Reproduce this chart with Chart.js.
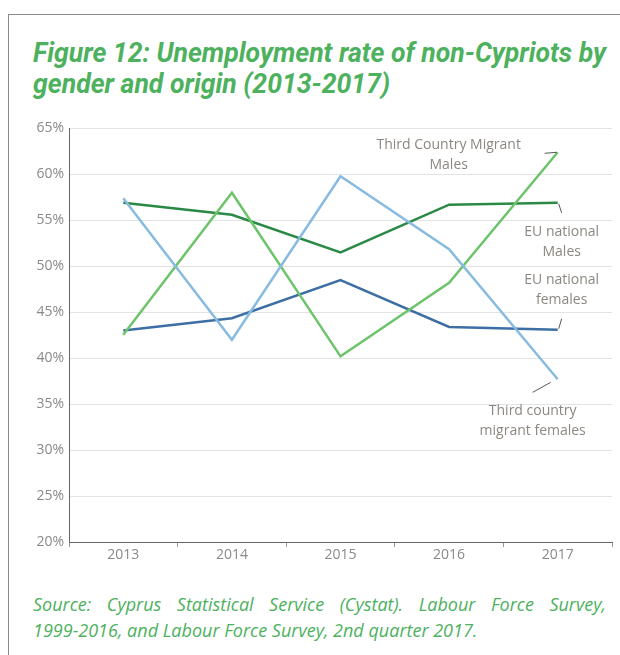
<!DOCTYPE html>
<html>
<head>
<meta charset="utf-8">
<script src="https://cdn.jsdelivr.net/npm/chart.js@4"></script>
<style>
body{margin:0;background:#fff;width:620px;height:655px;overflow:hidden;position:relative;font-family:"Open Sans",sans-serif}
#frame{position:absolute;left:8px;top:14px;width:620px;height:650px;border-top:1.5px solid #8a8a8a;border-left:1.5px solid #8a8a8a}
#title{position:absolute;left:33px;top:37px;color:#4db15e;font:italic bold 28px Roboto;line-height:31px;white-space:nowrap}
#title span{display:inline-block;transform-origin:left top}
#chart{position:absolute;left:0;top:115px}
#source{position:absolute;left:33px;top:591px;width:573px;color:#4db15e;font:italic 18px "Open Sans";line-height:26px}
.l1{text-align:justify;text-align-last:justify}
</style>
</head>
<body>
<div id="frame"></div>
<div id="title"><span id="t1">Figure 12: Unemployment rate of non-Cypriots by</span><br><span id="t2">gender and origin (2013-2017)</span></div>
<canvas id="chart" width="620" height="455"></canvas>
<div id="source"><div class="l1">Source: Cyprus Statistical Service (Cystat). Labour Force Survey,</div><div>1999-2016, and Labour Force Survey, 2nd quarter 2017.</div></div>
<script>
// fit the condensed title to the width of the original
const t1 = document.getElementById("t1");
const t2 = document.getElementById("t2");
const k = 573 / t1.getBoundingClientRect().width;
[t1, t2].forEach(s => s.style.transform = `scaleX(${k})`);

const years = ["2013", "2014", "2015", "2016", "2017"];
const yTicks = [20, 25, 30, 35, 40, 45, 50, 55, 60, 65];
const euMales = [56.9, 55.6, 51.5, 56.7, 56.9];
const euFemales = [43.0, 44.35, 48.5, 43.4, 43.1];
const tcMales = [42.55, 58.0, 40.2, 48.2, 62.4];
const tcFemales = [57.4, 42.0, 59.8, 51.85, 37.7];

const labelColor = "#8c8781";

// end-of-line labels with a short leader line
const endLabels = {
    id: "endLabels",
    afterDatasetsDraw(chart) {
        const ctx = chart.ctx;
        chart.data.datasets.forEach((ds, i) => {
            const lab = ds.endLabel;
            const pt = chart.getDatasetMeta(i).data[ds.data.length - 1];
            ctx.save();
            ctx.strokeStyle = "#555";
            ctx.lineWidth = 1;
            ctx.beginPath();
            ctx.moveTo(pt.x + lab.lead[0], pt.y + lab.lead[1]);
            ctx.lineTo(pt.x + lab.lead[2], pt.y + lab.lead[3]);
            ctx.stroke();
            ctx.fillStyle = labelColor;
            ctx.font = '14px "Open Sans"';
            ctx.textAlign = "center";
            ctx.textBaseline = "middle";
            lab.lines.forEach((t, j) => ctx.fillText(t, pt.x + lab.dx, pt.y + lab.dy + j * 19.5));
            ctx.restore();
        });
    }
};

new Chart(document.getElementById("chart"), {
    type: "line",
    data: {
        labels: years,
        datasets: [{
            label: "Third country migrant females",
            data: tcFemales,
            borderColor: "#88bbe0",
            endLabel: { lines: ["Third country", "migrant females"], dx: -25, dy: 32, lead: [-7, 3, -25, 13] }
        }, {
            label: "Third Country Migrant Males",
            data: tcMales,
            borderColor: "#6ec46b",
            endLabel: { lines: ["Third Country Migrant", "Males"], dx: -109, dy: -7, lead: [-13, 1, -1, 0] }
        }, {
            label: "EU national females",
            data: euFemales,
            borderColor: "#3d6fa5",
            endLabel: { lines: ["EU national", "females"], dx: 4, dy: -49.5, lead: [1, -1, 4, -11] }
        }, {
            label: "EU national Males",
            data: euMales,
            borderColor: "#2a8a45",
            endLabel: { lines: ["EU national", "Males"], dx: 4, dy: 29.5, lead: [1, 1, 4, 10] }
        }]
    },
    options: {
        responsive: false,
        animation: false,
        devicePixelRatio: 1,
        elements: {
            line: { borderWidth: 2.5, tension: 0 },
            point: { radius: 0 }
        },
        layout: { padding: { top: 13, right: 8, left: 0, bottom: 0 } },
        plugins: {
            legend: { display: false },
            tooltip: { enabled: false }
        },
        scales: {
            x: {
                offset: true,
                grid: { offset: true, drawOnChartArea: false, tickLength: 5, color: "#999" },
                border: { color: "#666", width: 1 },
                ticks: { color: "#8a8a8a", font: { family: "Open Sans", size: 14 }, padding: 0 },
                afterFit: s => { s.height = 28; }
            },
            y: {
                min: 20,
                max: 65,
                afterBuildTicks: s => { s.ticks = yTicks.map(v => ({ value: v })); },
                grid: { color: "#e3e3e3", drawTicks: false },
                border: { color: "#666", width: 1 },
                ticks: {
                    color: "#8a8a8a",
                    font: { family: "Open Sans", size: 14 },
                    padding: 5,
                    callback: v => v + "%"
                },
                afterFit: s => { s.width = 69; }
            }
        }
    },
    plugins: [endLabels]
});
</script>
</body>
</html>
